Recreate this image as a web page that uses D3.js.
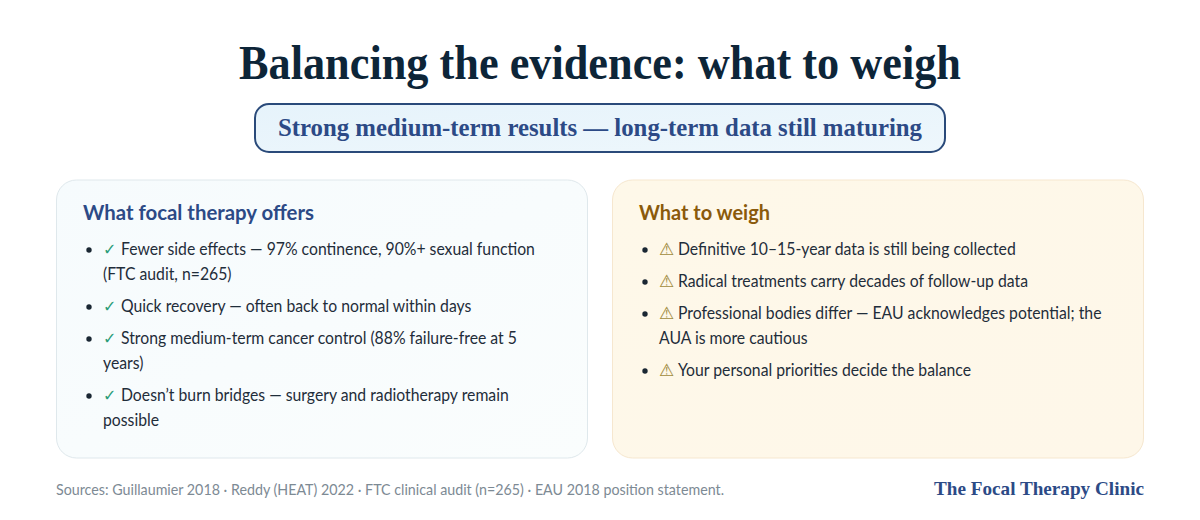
<!DOCTYPE html>
<html>
<head>
<meta charset="utf-8">
<script src="https://cdn.jsdelivr.net/npm/d3@7"></script>
<style>
  html, body { margin: 0; padding: 0; background: #fff; }
  svg { display: block; }
</style>
</head>
<body>
<div id="chart"></div>
<script>
// text content
const titleText = "Balancing the evidence: what to weigh";
const subtitleText = "Strong medium-term results \u2014 long-term data still maturing";
const footerText = "Sources: Guillaumier 2018 \u00b7 Reddy (HEAT) 2022 \u00b7 FTC clinical audit (n=265) \u00b7 EAU 2018 position statement.";
const brandText = "The Focal Therapy Clinic";

const cardTitles = ["What focal therapy offers", "What to weigh"];
const offers = [
  ["Fewer side effects \u2014 97% continence, 90%+ sexual function", "(FTC audit, n=265)"],
  ["Quick recovery \u2014 often back to normal within days"],
  ["Strong medium-term cancer control (88% failure-free at 5", "years)"],
  ["Doesn\u2019t burn bridges \u2014 surgery and radiotherapy remain", "possible"]
];
const weighs = [
  ["Definitive 10\u201315-year data is still being collected"],
  ["Radical treatments carry decades of follow-up data"],
  ["Professional bodies differ \u2014 EAU acknowledges potential; the", "AUA is more cautious"],
  ["Your personal priorities decide the balance"]
];

const width = 1200;
const height = 520;
const serif = "'Liberation Serif', serif";
const sans = "Lato, 'Noto Sans', sans-serif";

const svg = d3.select("#chart").append("svg")
  .attr("width", width)
  .attr("height", height);

const defs = svg.append("defs");

function addGradient(id, from, to) {
  const g = defs.append("linearGradient").attr("id", id)
    .attr("x1", "0").attr("y1", "0").attr("x2", "1").attr("y2", "1");
  g.append("stop").attr("offset", "0%").attr("stop-color", from);
  g.append("stop").attr("offset", "100%").attr("stop-color", to);
}
addGradient("pillFill", "#e6f3fb", "#eef7fc");
addGradient("leftFill", "#f6fbfd", "#fafdfd");
addGradient("rightFill", "#fef8e9", "#fef7e9");

// squeeze or stretch a text to the width it has in the reference
function fit(sel, w) {
  return sel.attr("textLength", w).attr("lengthAdjust", "spacingAndGlyphs");
}

// body font runs a little wide, so narrow every line by the same factor
const bodySqueeze = 0.955;
function squeeze(sel) {
  return fit(sel, sel.node().getComputedTextLength() * bodySqueeze);
}

/***** HEADER *****/
fit(svg.append("text")
  .attr("x", 239).attr("y", 79)
  .attr("font-family", serif).attr("font-size", 49).attr("font-weight", 700)
  .attr("fill", "#0d2538")
  .text(titleText), 722);

svg.append("rect")
  .attr("x", 255).attr("y", 104).attr("width", 690).attr("height", 48).attr("rx", 14)
  .attr("fill", "url(#pillFill)")
  .attr("stroke", "#2a4a7a").attr("stroke-width", 2);

fit(svg.append("text")
  .attr("x", 278).attr("y", 136)
  .attr("font-family", serif).attr("font-size", 25).attr("font-weight", 700)
  .attr("fill", "#2c4a86")
  .text(subtitleText), 644);

/***** CARDS *****/
const cards = [
  { x: 56.5, fill: "url(#leftFill)", stroke: "#dfe8ec", titleColor: "#2c4a86", iconColor: "#2a9d78", icon: "\u2713", iconGap: 18, iconSize: 16,
    title: cardTitles[0], items: offers, titleW: 231 },
  { x: 612.5, fill: "url(#rightFill)", stroke: "#f6e7cf", titleColor: "#8a5a0b", iconColor: "#a08a3c", icon: "\u26a0", iconGap: 19, iconSize: 17,
    title: cardTitles[1], items: weighs, titleW: 131 }
];

const lineHeight = 25;
const itemGap = 7;
const firstBaseline = 255;

cards.forEach(c => {
  const card = svg.append("g").attr("transform", `translate(${c.x},0)`);

  card.append("rect")
    .attr("x", 0).attr("y", 180).attr("width", 531).attr("height", 278).attr("rx", 20)
    .attr("fill", c.fill).attr("stroke", c.stroke);

  fit(card.append("text")
    .attr("x", 26.5).attr("y", 220)
    .attr("font-family", sans).attr("font-size", 21).attr("font-weight", 700)
    .attr("fill", c.titleColor)
    .text(c.title), c.titleW);

  let y = firstBaseline;
  c.items.forEach(lines => {
    card.append("circle")
      .attr("cx", 32.5).attr("cy", y - 5).attr("r", 2.7)
      .attr("fill", "#1a2733");

    lines.forEach((line, i) => {
      if (i === 0) {
        card.append("text")
          .attr("x", 46.5).attr("y", y)
          .attr("font-family", "'DejaVu Sans', sans-serif").attr("font-size", c.iconSize)
          .attr("fill", c.iconColor)
          .text(c.icon);
      }
      squeeze(card.append("text")
        .attr("x", i === 0 ? 46.5 + c.iconGap : 46.5).attr("y", y)
        .attr("font-family", sans).attr("font-size", 16.5)
        .attr("fill", "#1f2d3a")
        .text(line));
      y += lineHeight;
    });
    y += itemGap;
  });
});

/***** FOOTER *****/
fit(svg.append("text")
  .attr("x", 56).attr("y", 495)
  .attr("font-family", sans).attr("font-size", 15)
  .attr("fill", "#7d8a94")
  .text(footerText), 668);

fit(svg.append("text")
  .attr("x", 934).attr("y", 495)
  .attr("font-family", serif).attr("font-size", 19).attr("font-weight", 700)
  .attr("fill", "#2c4a86")
  .text(brandText), 210);
</script>
</body>
</html>
